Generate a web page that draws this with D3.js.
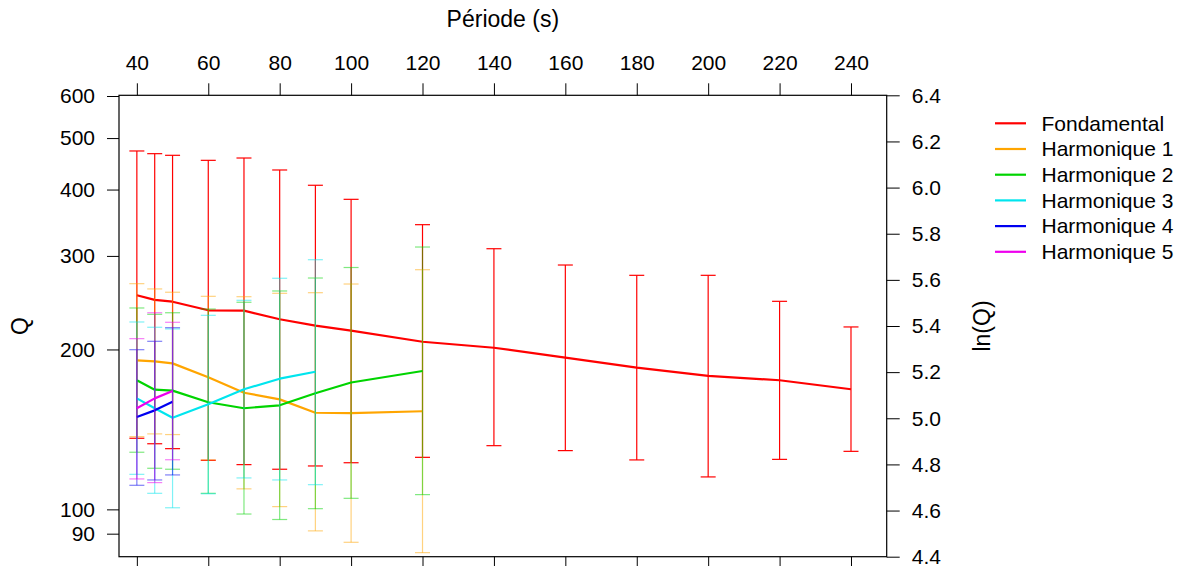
<!DOCTYPE html>
<html>
<head>
<meta charset="utf-8">
<script src="https://cdn.jsdelivr.net/npm/d3@7"></script>
<style>
  html, body { margin: 0; padding: 0; background: #ffffff; }
  svg { display: block; font-family: "Liberation Sans", Arial, Helvetica, sans-serif; }
</style>
</head>
<body>
<svg id="chart" width="1185" height="566"></svg>
<script>
// ---------- data ----------
const seriesNames = ["Fondamental", "Harmonique 1", "Harmonique 2", "Harmonique 3", "Harmonique 4", "Harmonique 5"];
const seriesColors = ["#ff0000", "#ffa500", "#00d400", "#00e5ee", "#0000f0", "#ee00ee"];

const fondPeriods = [40, 45, 50, 60, 70, 80, 90, 100, 120, 140, 160, 180, 200, 220, 240];
const fondQ    = [253, 248, 246, 237, 236.6, 228, 221.7, 217, 206.8, 201.5, 193, 184.8, 178.3, 175, 168.3];
const fondLow  = [136.1, 132.9, 130.1, 123.7, 121.4, 119, 120.7, 122.4, 125.3, 131.8, 129, 123.9, 115.1, 124.2, 128.6];
const fondHigh = [472.8, 467.3, 464, 454, 458.6, 435.4, 407.5, 383.4, 343.5, 309.5, 288.4, 275.8, 275.8, 246.4, 220.5];

const h1Periods = [40, 45, 50, 60, 70, 80, 90, 100, 120];
const h1Q    = [190.8, 190, 188.3, 177.3, 165.8, 161.1, 152, 151.8, 153];
const h1Low  = [137.1, 138.7, 138.3, 123.9, 109.3, 101.2, 91.1, 86.7, 82.9];
const h1High = [266, 260, 256.3, 251.8, 251.4, 255.1, 255.8, 265.6, 282.6];

const h2Periods = [40, 45, 50, 60, 70, 80, 90, 100, 120];
const h2Q    = [175, 168, 167.3, 159.1, 155, 157, 165.4, 173.3, 182.2];
const h2Low  = [128.1, 119.5, 119, 107.2, 98, 95.7, 100.3, 104.9, 106.6];
const h2High = [239.4, 232.9, 234.5, 238.3, 245.4, 257.7, 272.6, 285.3, 311.8];

const h3Periods = [40, 45, 50, 60, 70, 80, 90];
const h3Q    = [161.8, 155, 148.8, 157.7, 168.3, 176.2, 181.6];
const h3Low  = [116.4, 107.2, 100.7, 107, 114.6, 113.6, 111.3];
const h3High = [225.3, 220.2, 218.6, 231.9, 247.5, 272.3, 295.1];

const h4Periods = [40, 45, 50];
const h4Q    = [149.2, 153.6, 159.5];
const h4Low  = [111, 113.6, 116.1];
const h4High = [199.8, 207.2, 219.8];

const h5Periods = [40, 45, 50];
const h5Q    = [155, 161.8, 167];
const h5Low  = [114.1, 112.3, 124];
const h5High = [209.6, 234.5, 225];

const xTicks = [40, 60, 80, 100, 120, 140, 160, 180, 200, 220, 240];
const qTicks = [90, 100, 200, 300, 400, 500, 600];
const lnTicks = [4.4, 4.6, 4.8, 5.0, 5.2, 5.4, 5.6, 5.8, 6.0, 6.2, 6.4];

const xTitle = "Période (s)";
const yTitle = "Q";
const y2Title = "ln(Q)";

// ---------- build series ----------
const series = [
  [fondPeriods, fondQ, fondLow, fondHigh],
  [h1Periods, h1Q, h1Low, h1High],
  [h2Periods, h2Q, h2Low, h2High],
  [h3Periods, h3Q, h3Low, h3High],
  [h4Periods, h4Q, h4Low, h4High],
  [h5Periods, h5Q, h5Low, h5High]
].map((s, i) => ({
  name: seriesNames[i],
  color: seriesColors[i],
  barOpacity: i === 0 ? 1 : 0.5,
  points: s[0].map((p, j) => ({ p: p, q: s[1][j], lo: s[2][j], hi: s[3][j] }))
}));

// ---------- layout ----------
const pLeft = 119, pRight = 886.7, pTop = 95.3, pBottom = 556.7;
const svg = d3.select("#chart");

const x = d3.scaleLinear().domain([35, 250]).range([pLeft, pRight]);
const y = d3.scaleLog().domain([Math.exp(4.4), Math.exp(6.4)]).range([pBottom, pTop]);
const yLn = d3.scaleLinear().domain([4.4, 6.4]).range([pBottom, pTop]);

const fontTick = 21;

function styleAxis(g) {
  g.select(".domain").remove();
  g.selectAll(".tick line").attr("stroke", "#000").attr("stroke-width", 1);
  g.selectAll(".tick text").attr("fill", "#000").attr("font-size", fontTick)
    .attr("font-family", "Liberation Sans, Arial, Helvetica, sans-serif");
}

svg.append("g").attr("transform", `translate(0,${pTop})`)
  .call(d3.axisTop(x).tickValues(xTicks).tickSize(12).tickPadding(13.5).tickFormat(d3.format("d")))
  .call(styleAxis);

svg.append("g").attr("transform", `translate(0,${pBottom})`)
  .call(d3.axisBottom(x).tickValues(xTicks).tickSize(12).tickFormat(""))
  .call(styleAxis);

svg.append("g").attr("transform", `translate(${pLeft},0)`)
  .call(d3.axisLeft(y).tickValues(qTicks).tickSize(12).tickPadding(12).tickFormat(d3.format("d")))
  .call(styleAxis);

svg.append("g").attr("transform", `translate(${pRight},0)`)
  .call(d3.axisRight(yLn).tickValues(lnTicks).tickSize(13).tickPadding(12).tickFormat(d3.format(".1f")))
  .call(styleAxis);

svg.append("rect")
  .attr("x", pLeft).attr("y", pTop)
  .attr("width", pRight - pLeft).attr("height", pBottom - pTop)
  .attr("fill", "none").attr("stroke", "#000").attr("stroke-width", 1.2);

const plot = svg.append("g");
const capHalf = 7.5;
const line = d3.line().x(d => x(d.p)).y(d => y(d.q));

series.forEach(s => {
  const g = plot.append("g").attr("stroke", s.color).attr("stroke-opacity", s.barOpacity).attr("fill", "none");
  g.selectAll("line.bar").data(s.points).join("line").attr("class", "bar")
    .attr("x1", d => x(d.p)).attr("x2", d => x(d.p))
    .attr("y1", d => y(d.hi)).attr("y2", d => y(d.lo))
    .attr("stroke-width", 1.2);
  g.selectAll("line.capH").data(s.points).join("line").attr("class", "capH")
    .attr("x1", d => x(d.p) - capHalf).attr("x2", d => x(d.p) + capHalf)
    .attr("y1", d => y(d.hi)).attr("y2", d => y(d.hi))
    .attr("stroke-width", 1.2);
  g.selectAll("line.capL").data(s.points).join("line").attr("class", "capL")
    .attr("x1", d => x(d.p) - capHalf).attr("x2", d => x(d.p) + capHalf)
    .attr("y1", d => y(d.lo)).attr("y2", d => y(d.lo))
    .attr("stroke-width", 1.2);
  plot.append("path").datum(s.points)
    .attr("d", line)
    .attr("fill", "none").attr("stroke", s.color).attr("stroke-width", 2.2)
    .attr("stroke-linejoin", "round");
});

svg.append("text").attr("x", (pLeft + pRight) / 2).attr("y", 27)
  .attr("text-anchor", "middle").attr("font-size", 23).attr("fill", "#000").text(xTitle);

svg.append("text").attr("transform", `translate(28,${(pTop + pBottom) / 2}) rotate(-90)`)
  .attr("text-anchor", "middle").attr("font-size", 23).attr("fill", "#000").text(yTitle);

svg.append("text").attr("transform", `translate(990,${(pTop + pBottom) / 2}) rotate(-90)`)
  .attr("text-anchor", "middle").attr("font-size", 23).attr("fill", "#000").text(y2Title);

const legend = svg.append("g").attr("transform", "translate(995,123.3)");
series.forEach((s, i) => {
  const row = legend.append("g").attr("transform", `translate(0,${i * 25.7})`);
  row.append("line").attr("x1", 0).attr("x2", 31).attr("y1", 0).attr("y2", 0)
    .attr("stroke", s.color).attr("stroke-width", 2.2);
  row.append("text").attr("x", 46.5).attr("y", 0).attr("dy", "0.35em")
    .attr("font-size", 21).attr("fill", "#000").text(s.name);
});
</script>
</body>
</html>
